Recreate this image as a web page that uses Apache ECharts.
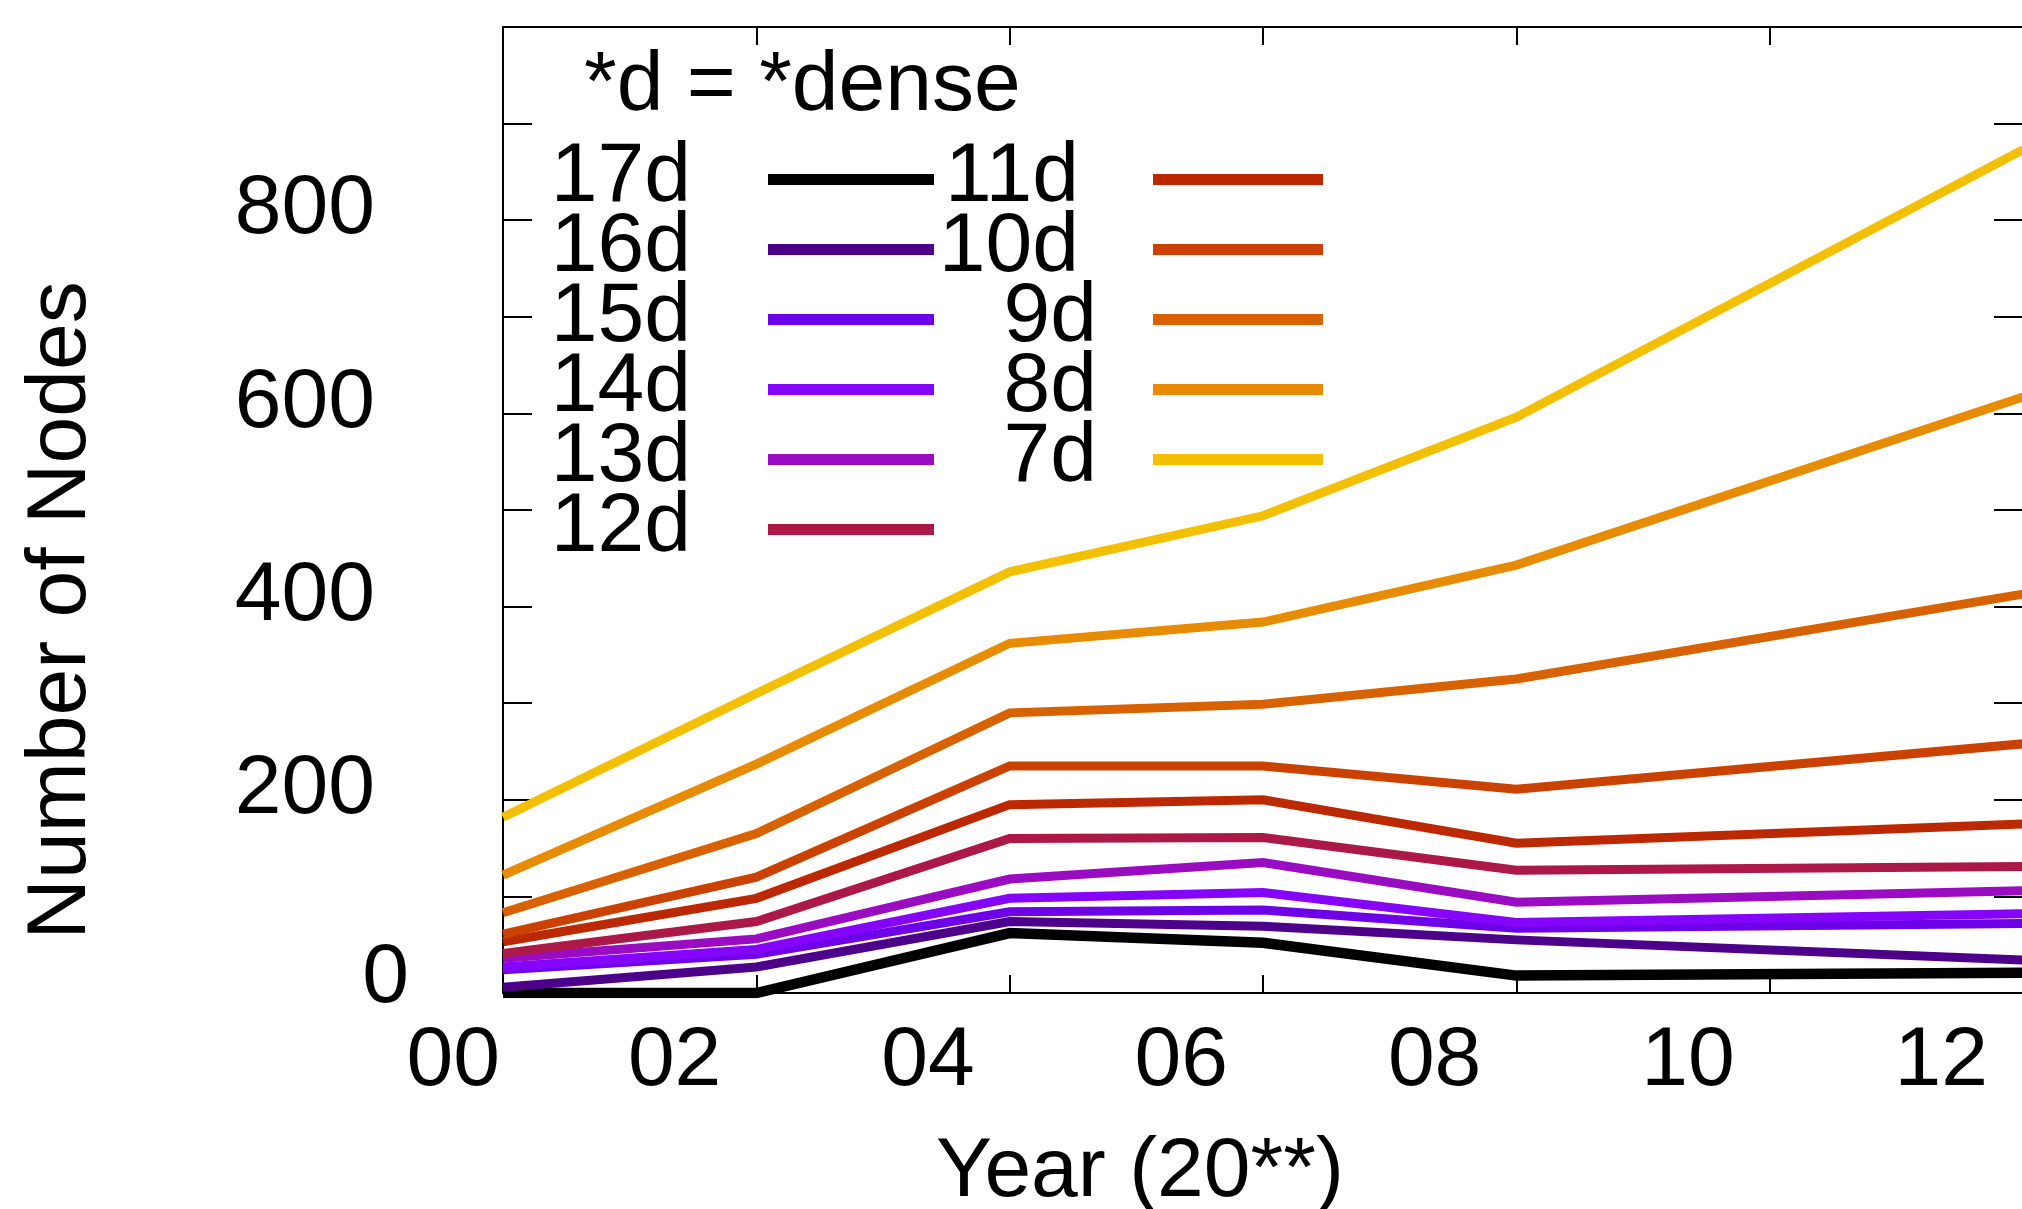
<!DOCTYPE html>
<html>
<head>
<meta charset="utf-8">
<script src="https://cdn.jsdelivr.net/npm/echarts@6/dist/echarts.min.js"></script>
<style>
html, body { margin: 0; padding: 0; background: #fff; }
#chart { width: 2022px; height: 1209px; }
</style>
</head>
<body>
<div id="chart"></div>
<script>
var years = [2000, 2002, 2004, 2006, 2008, 2012];
var xTickLabels = ['00', '02', '04', '06', '08', '10', '12'];
var yTickLabels = ['0', '200', '400', '600', '800'];

var names = ['17d', '16d', '15d', '14d', '13d', '12d', '11d', '10d', '9d', '8d', '7d'];
var d17 = [0, 0, 62, 52, 18, 21];
var d16 = [6, 27, 74, 69, 55, 34];
var d15 = [24, 40, 84, 86, 67, 72];
var d14 = [27, 45, 98, 104, 73, 82];
var d13 = [36, 56, 118, 135, 94, 106];
var d12 = [41, 74, 160, 161, 127, 131];
var d11 = [53, 98, 195, 200, 155, 175];
var d10 = [61, 120, 235, 235, 211, 258];
var d9 = [83, 165, 290, 299, 325, 413];
var d8 = [122, 237, 362, 384, 443, 617];
var d7 = [182, 310, 436, 494, 596, 873];
var values = [d17, d16, d15, d14, d13, d12, d11, d10, d9, d8, d7];

// gnuplot default palette (7,5,15)
var colors = ['#000000', '#4d008a', '#6d02e8', '#8505fc', '#9a0cc1', '#ac1848',
              '#bc2900', '#cb4200', '#d96200', '#e78c00', '#f3c000'];

var FONT = "'Liberation Sans', Arial, sans-serif";

function drawChart(id) {
    var dom = document.getElementById(id);
    var myChart = echarts.init(dom, null, {renderer: 'canvas'});

    var series = [];
    for (var i = 0; i < names.length; i++) {
        var pts = [];
        for (var j = 0; j < years.length; j++) {
            pts.push([years[j], values[i][j]]);
        }
        series.push({
            name: names[i],
            type: 'line',
            data: pts,
            symbol: 'none',
            showSymbol: false,
            color: colors[i],
            lineStyle: {width: i === 0 ? 10.5 : 9, color: colors[i], join: 'miter'},
            emphasis: {disabled: true}
        });
    }

    var tok = {fontSize: 84, fontFamily: FONT, lineHeight: 84, color: '#000'};
    // legend text sits a bit above its sample line, like gnuplot's key
    var legendTok = {fontSize: 84, fontFamily: FONT, lineHeight: 50, color: '#000', padding: [8, 0, 12, 0]};

    var option = {
        animation: false,
        backgroundColor: '#fff',
        title: {
            text: '*d = *dense',
            left: 584,
            top: 45,
            padding: 0,
            textStyle: {fontSize: 84, fontWeight: 'normal', fontFamily: FONT, lineHeight: 84, color: '#000'}
        },
        legend: [{
            data: names.slice(0, 6),
            orient: 'vertical',
            align: 'right',
            right: 1088,
            top: 127.5,
            padding: 0,
            itemGap: -34,
            icon: 'rect',
            itemWidth: 166,
            itemHeight: 11,
            selectedMode: false,
            formatter: function (n) {
                return '{a|' + n + '}';
            },
            textStyle: {
                fontSize: 84, fontFamily: FONT, color: '#000', padding: [0, 72, 0, 0],
                rich: {a: legendTok}
            }
        }, {
            data: names.slice(6),
            orient: 'vertical',
            align: 'right',
            right: 699,
            top: 127.5,
            padding: 0,
            itemGap: -34,
            icon: 'rect',
            itemWidth: 170,
            itemHeight: 11,
            selectedMode: false,
            formatter: function (n) {
                return n.length > 2 ? '{w|' + n + '}' : '{s|' + n + '}';
            },
            textStyle: {
                fontSize: 84, fontFamily: FONT, color: '#000', padding: [0, 51, 0, 0],
                rich: {
                    w: Object.assign({}, legendTok, {padding: [8, 18, 12, 0]}),
                    s: legendTok
                }
            }
        }],
        grid: {left: 503, right: -1, top: 27, bottom: 216, outerBoundsMode: 'none', containLabel: false},
        xAxis: [{
            type: 'value',
            position: 'bottom',
            min: 2000,
            max: 2012,
            interval: 2,
            name: 'Year (20**)',
            nameLocation: 'middle',
            nameGap: 138,
            nameTextStyle: {fontSize: 84, fontFamily: FONT, lineHeight: 84, color: '#000', padding: [0, 246, 0, 0]},
            axisLine: {show: true, onZero: false, lineStyle: {color: '#000', width: 2}},
            axisTick: {show: true, inside: true, length: 18, lineStyle: {color: '#000', width: 2}},
            splitLine: {show: false},
            axisLabel: {
                margin: 27,
                align: 'right',
                showMinLabel: true,
                showMaxLabel: true,
                hideOverlap: false,
                formatter: function (v) {
                    var k = Math.round((v - 2000) / 2);
                    var t = xTickLabels[k];
                    return k === 0 ? '{f|' + t + '}' : '{n|' + t + '}';
                },
                rich: {
                    f: Object.assign({padding: [0, 3, 0, 0]}, tok),
                    n: Object.assign({padding: [0, 35, 0, 0]}, tok)
                }
            }
        }, {
            type: 'value',
            position: 'top',
            min: 2000,
            max: 2012,
            interval: 2,
            axisLine: {show: true, onZero: false, lineStyle: {color: '#000', width: 2}},
            axisTick: {show: true, inside: true, length: 18, lineStyle: {color: '#000', width: 2}},
            axisLabel: {show: false},
            splitLine: {show: false}
        }],
        yAxis: [{
            type: 'value',
            position: 'left',
            min: 0,
            max: 1000,
            interval: 100,
            name: 'Number of Nodes',
            nameLocation: 'middle',
            nameRotate: 90,
            nameGap: 399,
            nameTextStyle: {fontSize: 84, fontFamily: FONT, lineHeight: 84, color: '#000', padding: [0, 201, 0, 0]},
            axisLine: {show: true, lineStyle: {color: '#000', width: 2}},
            axisTick: {show: true, inside: true, length: 29, lineStyle: {color: '#000', width: 2}},
            splitLine: {show: false},
            axisLabel: {
                margin: 94,
                formatter: function (v) {
                    var k = v / 200;
                    if (v % 200 !== 0 || k >= yTickLabels.length) return '';
                    return k === 0 ? '{z|' + yTickLabels[k] + '}' : '{n|' + yTickLabels[k] + '}';
                },
                rich: {
                    z: Object.assign({padding: [0, 0, 28, 0]}, tok),
                    n: Object.assign({padding: [0, 34, 20, 0]}, tok)
                }
            }
        }, {
            type: 'value',
            position: 'right',
            min: 0,
            max: 1000,
            interval: 100,
            axisLine: {show: true, lineStyle: {color: '#000', width: 2}},
            axisTick: {show: true, inside: true, length: 29, lineStyle: {color: '#000', width: 2}},
            axisLabel: {show: false},
            splitLine: {show: false}
        }],
        series: series
    };

    myChart.setOption(option, true);
    return myChart;
}

drawChart('chart');
</script>
</body>
</html>
